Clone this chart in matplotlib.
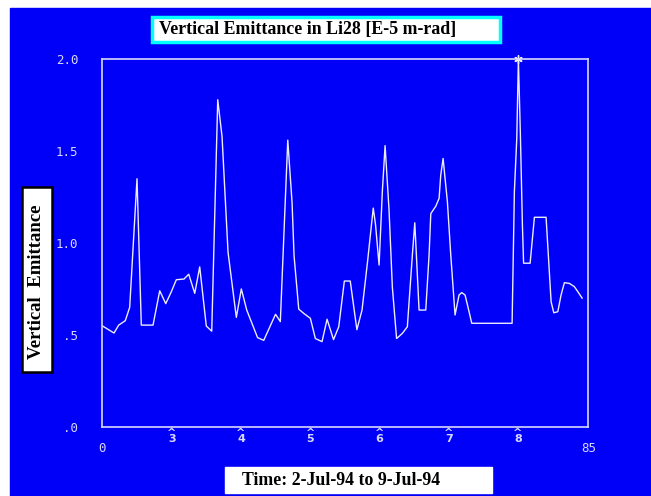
import matplotlib
matplotlib.use("Agg")
import matplotlib.pyplot as plt
from matplotlib.patches import Rectangle

# sample time (axis units 0..85) and vertical emittance values
time = [0.1, 2.10, 2.92, 4.07, 4.84, 6.12, 6.87, 8.92, 10.09, 11.14,
        12.12, 12.99, 14.34, 15.16, 16.21, 17.08, 18.23, 19.18, 20.23, 20.98,
        22.03, 23.48, 24.35, 25.30, 27.19, 28.27, 30.33, 31.17, 32.47, 33.22,
        33.57, 34.39, 35.26, 36.42, 37.29, 38.46, 39.34, 40.47, 41.38, 42.36,
        43.39, 44.55, 45.45, 46.42, 47.41, 47.81, 48.43, 49.00, 49.48, 50.17,
        50.75, 51.49, 52.50, 53.37, 54.25, 54.67, 54.95, 55.42, 56.59, 57.17,
        57.47, 58.34, 58.92, 59.21, 59.62, 59.97, 60.37, 60.96, 61.71, 62.41,
        62.88, 63.46, 64.16, 64.63, 71.68, 72.08, 72.50, 72.78, 73.13, 73.48,
        73.69, 74.83, 75.58, 77.62, 78.50, 78.97, 79.67, 80.24, 80.82, 81.70,
        82.57, 83.17, 83.92]
emit = [0.548, 0.51, 0.553, 0.577, 0.65, 1.35, 0.553, 0.553, 0.74, 0.67,
        0.735, 0.80, 0.804, 0.83, 0.726, 0.87, 0.548, 0.52, 1.78, 1.58,
        0.95, 0.595, 0.75, 0.635, 0.485, 0.47, 0.612, 0.572, 1.56, 1.22,
        0.93, 0.64, 0.617, 0.59, 0.48, 0.463, 0.585, 0.474, 0.544, 0.793,
        0.793, 0.528, 0.635, 0.90, 1.19, 1.10, 0.88, 1.28, 1.53, 1.18,
        0.76, 0.48, 0.508, 0.544, 0.935, 1.11, 0.935, 0.635, 0.635, 0.935,
        1.16, 1.20, 1.243, 1.37, 1.46, 1.35, 1.225, 0.935, 0.608, 0.717,
        0.73, 0.717, 0.626, 0.563, 0.563, 1.28, 1.57, 2.0, 1.59, 1.10,
        0.89, 0.89, 1.14, 1.14, 0.68, 0.62, 0.626, 0.717, 0.784, 0.78,
        0.762, 0.735, 0.70]

ytick_vals = [0.0, 0.5, 1.0, 1.5, 2.0]
ytick_labels = [".0", ".5", "1.0", "1.5", "2.0"]
day_pos = [12.2, 24.3, 36.4, 48.5, 60.6, 72.7]
day_labels = ["3", "4", "5", "6", "7", "8"]

W, H = 651, 496
BLUE = "#0000f8"
FG = "#d8d8ff"
serif = ["Liberation Serif", "DejaVu Serif"]
mono = ["DejaVu Sans Mono"]

def box(x0, y0, x1, y1):
    # pixel box (top-left origin) -> figure fractions
    return x0 / W, 1 - y1 / H, (x1 - x0) / W, (y1 - y0) / H

fig = plt.figure(figsize=(6.51, 4.96), dpi=100, facecolor="white")
x0, y0, bw, bh = box(10, 8, W, H)
fig.patches.append(Rectangle((x0, y0), bw, bh, transform=fig.transFigure,
                             color=BLUE, zorder=-5))

l, b, w, h = box(102, 59.3, 588.3, 426.7)
ax = fig.add_axes([l, b, w, h])
ax.set_facecolor("none")
ax.plot(time, emit, color="#ececff", lw=1.0)
top = emit.index(max(emit))
ax.plot(time[top], emit[top], marker=(6, 2, 0), color="#ececff", ms=6, mew=1, clip_on=False)

ax.set_xlim(0, 85)
ax.set_ylim(0, 2.0)
for s in ax.spines.values():
    s.set_color(FG)
    s.set_linewidth(1.2)

ax.set_yticks(ytick_vals, ytick_labels)
ax.set_yticks([0.5, 1.0, 1.5], minor=True)
ax.tick_params(axis="y", which="major", length=0, pad=17, colors=FG, labelsize=9)
ax.tick_params(axis="y", which="minor", length=8.6, width=1.2, color=FG,
               left=True, right=True, direction="out")
ax.set_xticks([0, 85], ["0", "85"])
ax.tick_params(axis="x", which="major", length=0, pad=11, colors=FG, labelsize=9)
ax.set_xticks(day_pos, ["^\n" + d for d in day_labels], minor=True)
ax.tick_params(axis="x", which="minor", length=0, pad=1, colors=FG, labelsize=8)
for t in ax.get_yticklabels() + ax.get_xticklabels():
    t.set_family(mono)
for t in ax.get_xticklabels(minor=True):
    t.set_linespacing(0.55)
    t.set_fontweight("bold")

# title box
x0, y0, bw, bh = box(152, 17, 500, 42)
fig.patches.append(Rectangle((x0, y0), bw, bh, transform=fig.transFigure,
                             facecolor="white", edgecolor="#00ffff", lw=2.5, zorder=2))
fig.text(159 / W, 1 - 29.5 / H, "Vertical Emittance in Li28 [E-5 m-rad]",
         family=serif, weight="bold", fontsize=12.9, va="center", ha="left", zorder=3)

# y label box
x0, y0, bw, bh = box(22, 187, 52, 372)
fig.patches.append(Rectangle((x0, y0), bw, bh, transform=fig.transFigure,
                             facecolor="white", edgecolor="black", lw=1.8, zorder=2))
fig.text(37 / W, 1 - 282 / H, "Vertical  Emittance", family=serif, weight="bold",
         fontsize=13.5, rotation=90, va="center", ha="center", zorder=3)

# x label box
x0, y0, bw, bh = box(225, 467, 492, 493)
fig.patches.append(Rectangle((x0, y0), bw, bh, transform=fig.transFigure,
                             facecolor="white", edgecolor="white", lw=1, zorder=2))
fig.text(241.5 / W, 1 - 480.5 / H, "Time: 2-Jul-94 to 9-Jul-94", family=serif,
         weight="bold", fontsize=12.8, va="center", ha="left", zorder=3)

fig.savefig("out.png", dpi=100, facecolor=fig.get_facecolor())
